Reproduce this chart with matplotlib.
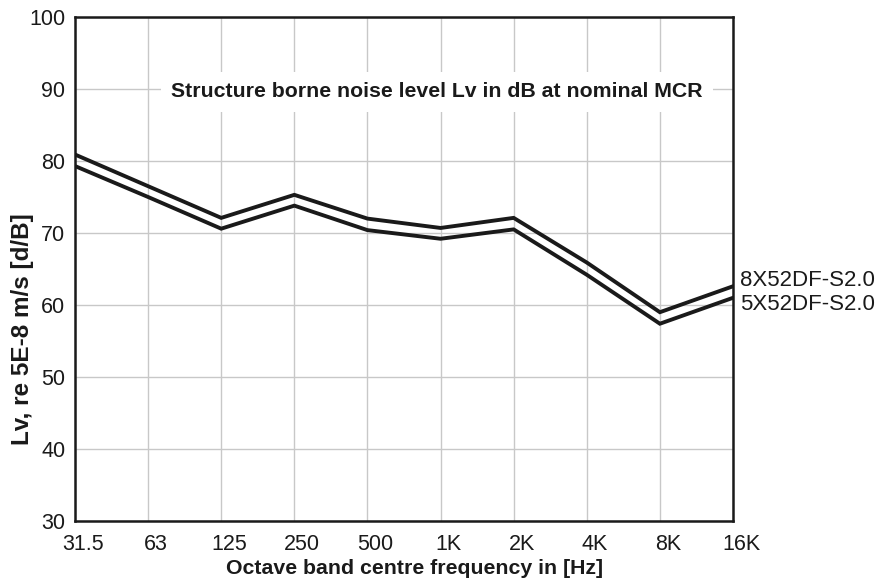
import matplotlib
matplotlib.use("Agg")
import matplotlib.pyplot as plt
import matplotlib.transforms as mtransforms

# octave band centre frequencies and structure borne noise levels (dB)
bands = ["31.5", "63", "125", "250", "500", "1K", "2K", "4K", "8K", "16K"]
lv_8x52 = [80.9, 76.5, 72.1, 75.3, 72.0, 70.7, 72.1, 65.9, 59.0, 62.6]
lv_5x52 = [79.3, 75.0, 70.6, 73.8, 70.4, 69.2, 70.5, 64.2, 57.4, 61.0]
engines = ["8X52DF-S2.0", "5X52DF-S2.0"]

plt.rcParams["font.family"] = ["Liberation Sans", "DejaVu Sans"]
ink = "#1a1a1a"

fig = plt.figure(figsize=(8.84, 5.84), dpi=100)
ax = fig.add_axes([75 / 884, 1 - 521 / 584, 658 / 884, 504 / 584])

x = list(range(len(bands)))
ax.plot(x, lv_8x52, color=ink, lw=2.8, solid_joinstyle="miter", zorder=3)
ax.plot(x, lv_5x52, color=ink, lw=2.8, solid_joinstyle="miter", zorder=3)

ax.set_xlim(0, 9)
ax.set_ylim(30, 100)
ax.set_xticks(x)
ax.set_xticklabels(bands)
ax.set_yticks(range(30, 101, 10))
ax.tick_params(length=0, labelsize=15.5, colors=ink)
ax.tick_params(axis="x", pad=9)
ax.tick_params(axis="y", pad=7)

# shift the frequency labels a bit to the right of their gridlines
shift = mtransforms.ScaledTranslation(8 / 100, 0, fig.dpi_scale_trans)
for lab in ax.get_xticklabels():
    lab.set_transform(lab.get_transform() + shift)

ax.grid(True, color="#c8c8c8", lw=1.0, zorder=0)
for s in ax.spines.values():
    s.set_color(ink)
    s.set_linewidth(1.8)

# title inside the plot on a white patch that hides the grid
trans = mtransforms.blended_transform_factory(ax.transAxes, ax.transData)
ax.text(0.55, 89.6, "Structure borne noise level Lv in dB at nominal MCR",
        transform=trans, ha="center", va="center", fontsize=15.3,
        fontweight="bold", color=ink, zorder=4,
        bbox=dict(boxstyle="square,pad=0.5", fc="white", ec="none"))

# engine labels at the right end of each curve
ax.annotate(engines[0], (9, lv_8x52[-1]), xytext=(5, 4.5), textcoords="offset points",
            ha="left", va="center", fontsize=16, color=ink, annotation_clip=False)
ax.annotate(engines[1], (9, lv_5x52[-1]), xytext=(5, -5), textcoords="offset points",
            ha="left", va="center", fontsize=16, color=ink, annotation_clip=False)

fig.text(415 / 884, 1 - 568 / 584, "Octave band centre frequency in [Hz]",
         ha="center", va="center", fontsize=15.3, fontweight="bold", color=ink)
fig.text(23 / 884, 1 - 329 / 584, "Lv, re 5E-8 m/s [d/B]", rotation=90,
         ha="center", va="center", fontsize=17.5, fontweight="bold", color=ink)

fig.savefig("out.png", dpi=100)
